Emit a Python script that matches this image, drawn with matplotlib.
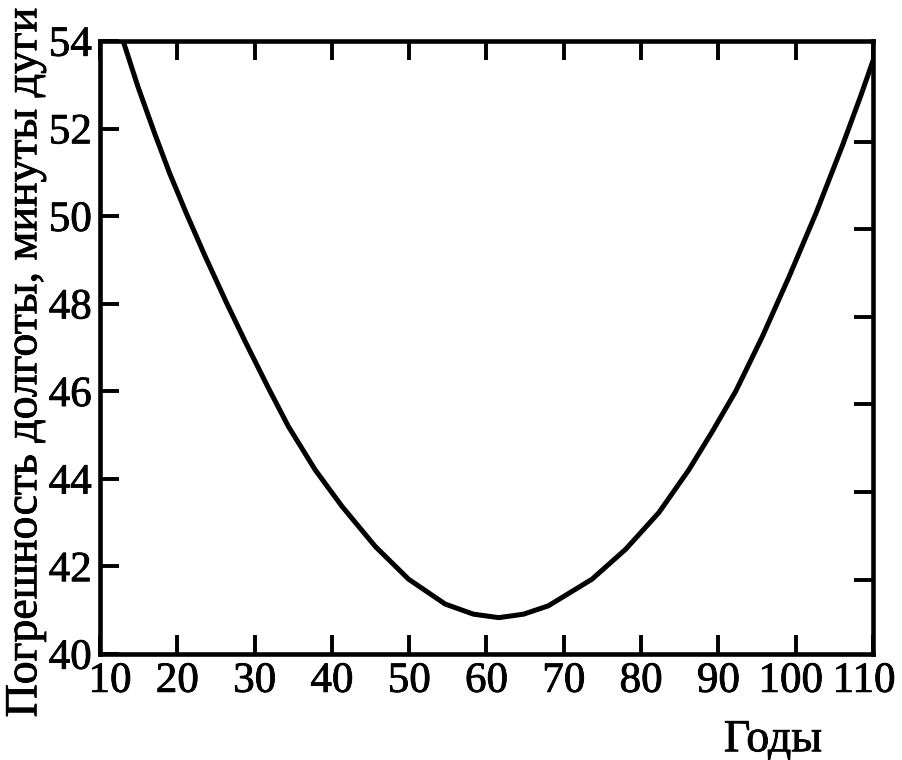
import matplotlib.pyplot as plt
import matplotlib.transforms as mtransforms
import matplotlib.patheffects as pe

# Values (year, longitude error in arc minutes)
years = [12.98, 14.92, 17.09, 19.03, 21.18, 23.56, 26.37, 28.8, 31.77,
         34.36, 37.82, 41.27, 45.59, 49.91, 54.66, 58.3, 61.6, 64.8, 68.0,
         73.66, 77.99, 82.30, 86.19, 89.21, 92.24, 95.69, 99.15, 102.61,
         106.06, 108.44, 110.0]
error = [54.01, 52.95, 51.88, 50.97, 50.06, 49.10, 48.02, 47.13, 46.08,
         45.20, 44.21, 43.38, 42.46, 41.71, 41.14, 40.91, 40.83, 40.91, 41.10,
         41.71, 42.39, 43.23, 44.21, 45.08, 46.00, 47.25, 48.62, 50.06,
         51.62, 52.76, 53.55]

x_ticks = [10, 20, 30, 40, 50, 60, 70, 80, 90, 100, 110]
y_ticks = [40, 42, 44, 46, 48, 50, 52, 54]
# ticks on the right frame sit slightly lower in the original drawing
right_ticks = [41.7, 43.7, 45.7, 47.7, 49.7, 51.7]

plt.rcParams['font.family'] = ['Liberation Serif', 'DejaVu Serif']
heavy = [pe.withStroke(linewidth=0.6, foreground='black')]

fig = plt.figure(figsize=(9.02, 7.6), dpi=100)
ax = fig.add_axes([100 / 902, 106 / 760, 773 / 902, 613 / 760])

ax.plot(years, error, color='black', lw=3.6, solid_capstyle='round',
        solid_joinstyle='round')

ax.set_xlim(10, 110)
ax.set_ylim(40, 54)
ax.set_xticks(x_ticks)
ax.set_yticks(y_ticks)
ax.set_xticklabels([str(t) for t in x_ticks])
ax.set_yticklabels([str(t) for t in y_ticks])

for s in ax.spines.values():
    s.set_linewidth(3.3)

ax.tick_params(axis='both', direction='in', length=14, width=2.8, labelsize=31,
               pad=6, colors='black')
ax.tick_params(axis='x', top=True, labeltop=False)
ax.tick_params(axis='y', right=False)

ax2 = ax.twinx()
ax2.set_ylim(40, 54)
ax2.set_yticks(right_ticks)
ax2.set_yticklabels([])
ax2.tick_params(axis='y', direction='in', length=14, width=2.8)
for s in ax2.spines.values():
    s.set_visible(False)

for lab in ax.get_xticklabels() + ax.get_yticklabels():
    lab.set_path_effects(heavy)

# nudge the crowded end labels like the original (pixels)
labels = ax.get_xticklabels()
for i, dx in [(0, 10), (-2, -5), (-1, -9)]:
    labels[i].set_transform(labels[i].get_transform() +
                            mtransforms.ScaledTranslation(dx / 100, 0, fig.dpi_scale_trans))

fig.text(25 / 902, 1 - 362 / 760, 'Погрешность долготы, минуты дуги',
         rotation=90, ha='center', va='center', fontsize=33, path_effects=heavy)
fig.text(773 / 902, 1 - 740 / 760, 'Годы', ha='center', va='center', fontsize=33,
         path_effects=heavy)

fig.savefig('out.png', dpi=100)
